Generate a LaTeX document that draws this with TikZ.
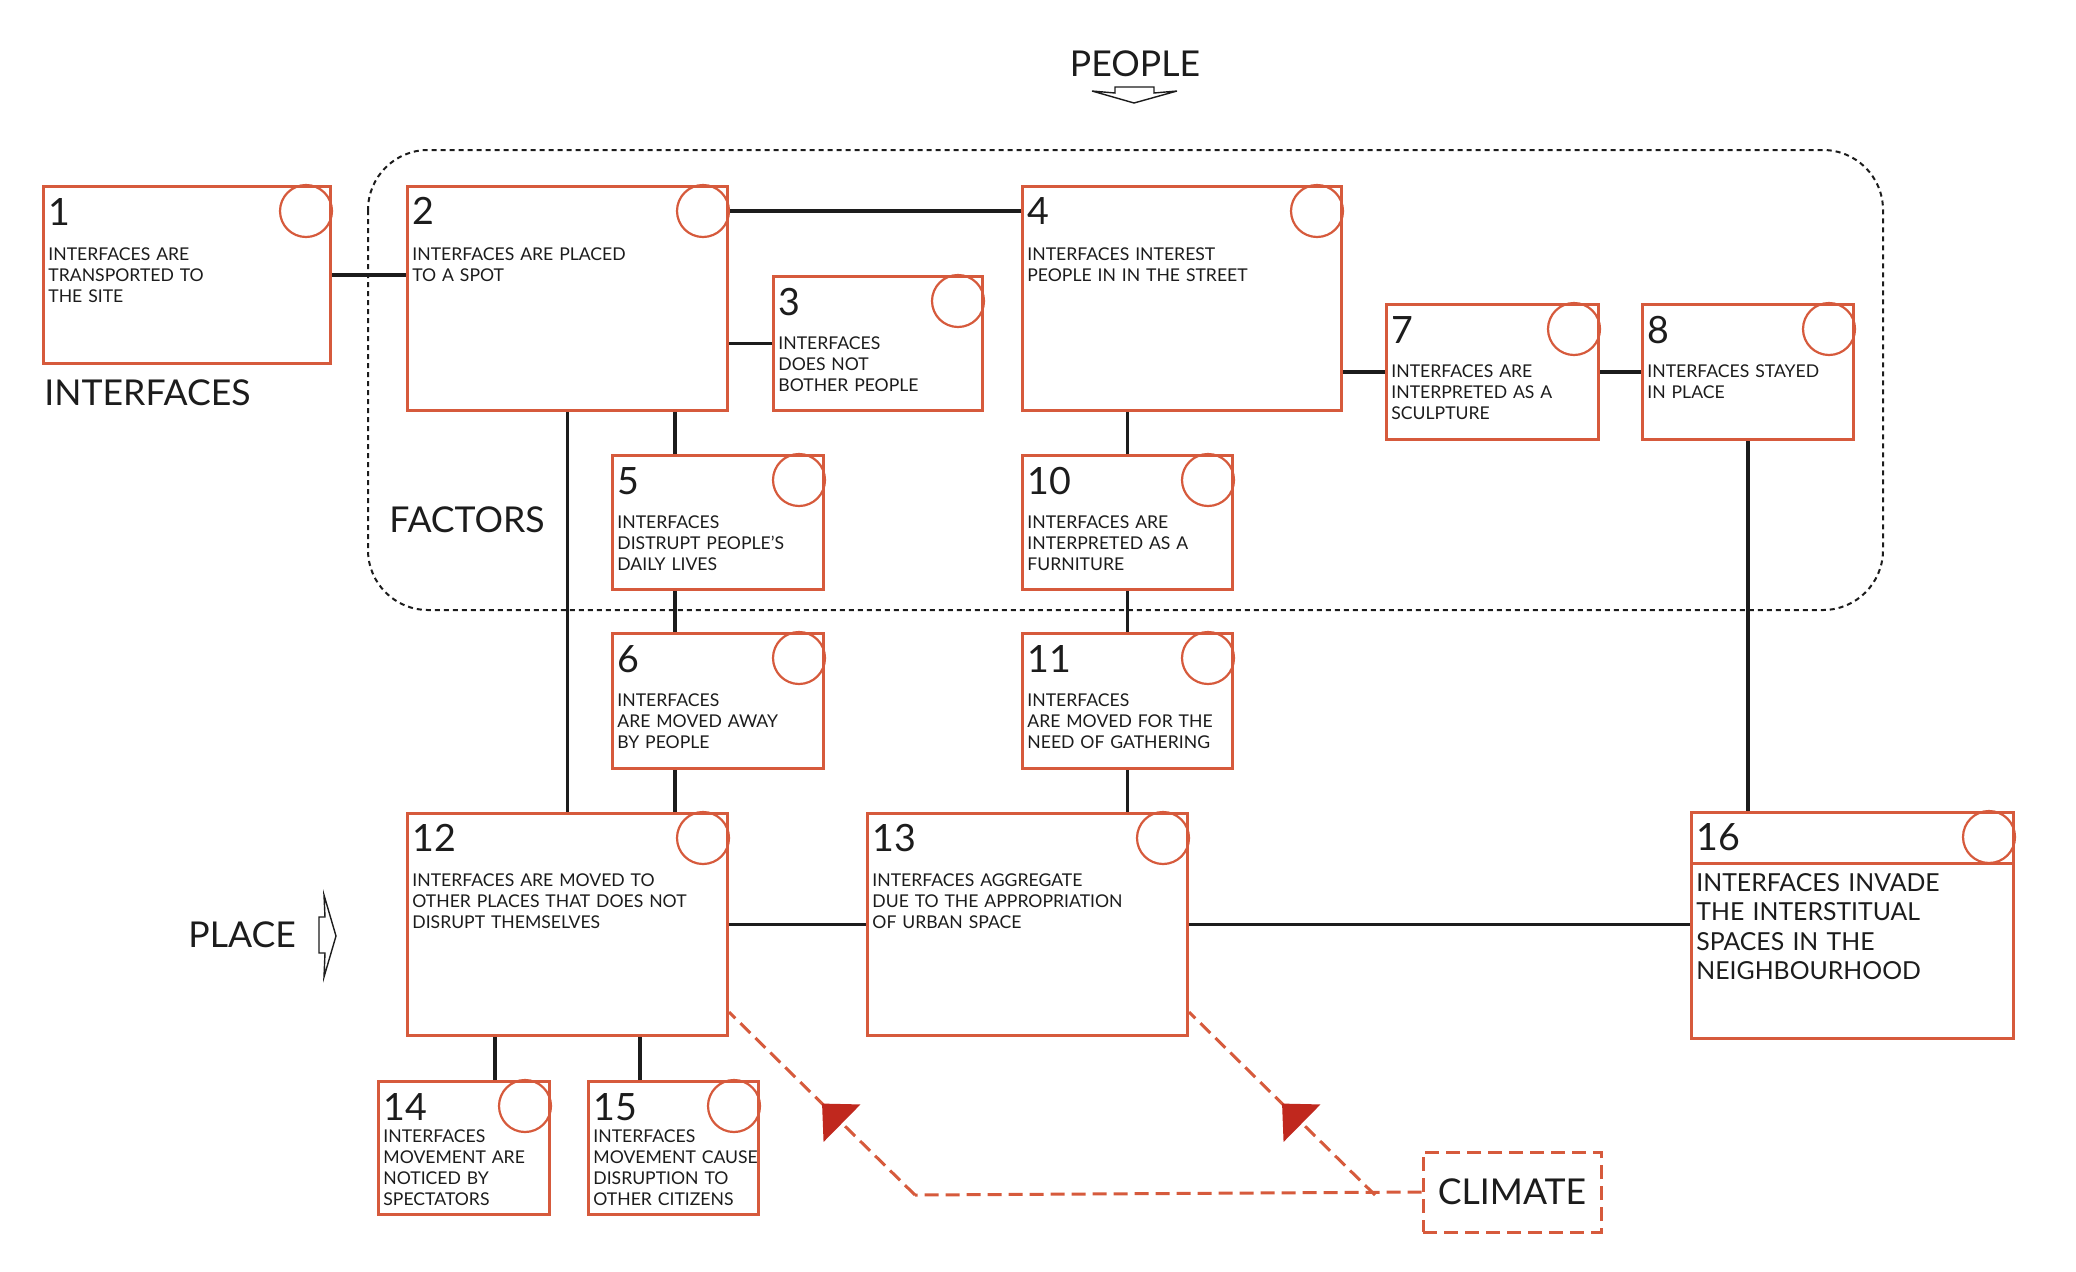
\documentclass[tikz,border=0pt]{standalone}
\usepackage{fontspec}
\setmainfont{Lato}
\usetikzlibrary{arrows.meta,calc,decorations.markings}
\definecolor{boxred}{HTML}{D65A3C}
\definecolor{arrowred}{HTML}{C0281E}
\definecolor{inkdark}{HTML}{1C1C1C}
\tikzset{
  ibox/.style={draw=boxred, fill=white, line width=1.5pt, inner sep=0pt,
    anchor=north west},
  ring/.style={draw=boxred, circle, line width=1.1pt, minimum size=26pt, inner sep=0pt},
  numlabel/.style={font=\fontsize{18.8}{20}\selectfont, text=inkdark,
    inner sep=0pt, anchor=base west},
  desc/.style={font=\fontsize{8.8}{10.5}\selectfont, text=inkdark, inner sep=0pt,
    anchor=base west, text width=170pt, align=left},
  bigdesc/.style={desc, font=\fontsize{12.4}{14.8}\selectfont},
  title/.style={font=\fontsize{17.8}{20}\selectfont, text=inkdark, inner sep=0pt},
  link/.style={line width=1.8pt, color=inkdark},
  % the factors zone
  factorline/.style={draw=inkdark, line width=1pt, dash pattern=on 2.5pt off 2pt,
    rounded corners=30pt},
  % climate influence
  climline/.style={draw=boxred, line width=1.5pt, dash pattern=on 7pt off 3.5pt},
  climbox/.style={climline, minimum width=89pt, minimum height=40pt, inner sep=0pt},
  midarrow/.style={postaction={decorate}, decoration={markings,
    mark=at position 0.5 with {\arrow[arrowred]{Triangle[width=26pt,length=14pt]}}}},
  glyph/.style={draw=inkdark, line width=0.7pt, fill=white, line join=miter},
}

\begin{document}
\begin{tikzpicture}[x=0.5pt,y=-0.5pt]
  \useasboundingbox (0,0) rectangle (2076,1271);
  % factors zone
  \draw[factorline] (368,150) rectangle (1883,610);
  % boxes
  \foreach \n/\x/\y/\w/\h/\nb/\tb/\txt in {
    1/42/185/287/177/40/75/{INTERFACES ARE\\TRANSPORTED TO\\THE SITE},
    2/406/185/320/224/39/75/{INTERFACES ARE PLACED\\TO A SPOT},
    3/772/275/209/134/40/74/{INTERFACES\\DOES NOT\\BOTHER PEOPLE},
    4/1021/185/319/224/39/75/{INTERFACES INTEREST\\PEOPLE IN IN THE STREET},
    5/611/454/211/134/40/74/{INTERFACES\\DISTRUPT PEOPLE’S\\DAILY LIVES},
    6/611/632/211/135/40/74/{INTERFACES\\ARE MOVED AWAY\\BY PEOPLE},
    7/1385/303/212/135/40/74/{INTERFACES ARE\\INTERPRETED AS A\\SCULPTURE},
    8/1641/303/211/135/40/74/{INTERFACES STAYED\\IN PLACE},
    10/1021/454/210/134/40/74/{INTERFACES ARE\\INTERPRETED AS A\\FURNITURE},
    11/1021/632/210/135/40/74/{INTERFACES\\ARE MOVED FOR THE\\NEED OF GATHERING},
    12/406/812/320/222/39/74/{INTERFACES ARE MOVED TO\\OTHER PLACES THAT DOES NOT\\DISRUPT THEMSELVES},
    13/866/812/320/222/39/74/{INTERFACES AGGREGATE\\DUE TO THE APPROPRIATION\\OF URBAN SPACE},
    14/377/1080/171/133/40/62/{INTERFACES\\MOVEMENT ARE\\NOTICED BY\\SPECTATORS},
    15/587/1080/170/133/40/62/{INTERFACES\\MOVEMENT CAUSE\\DISRUPTION TO\\OTHER CITIZENS}} {
    \node[ibox, minimum width=\w*0.5pt, minimum height=\h*0.5pt] (b\n) at (\x,\y) {};
    \node[ring] (c\n) at ([shift={(-26,26)}]b\n.north east) {};
    \node[numlabel] (n\n) at ([shift={(6,\nb)}]b\n.north west) {\n};
    \node[desc] (t\n) at ([shift={(6,\tb)}]b\n.north west) {\txt};
  }
  % box 16 has a head band
  \node[ibox, minimum width=161pt, minimum height=113pt] (b16) at (1690,811) {};
  \node[ring] (c16) at ([shift={(-26,26)}]b16.north east) {};
  \draw[boxred, line width=1.5pt] ([yshift=-26pt]b16.north west) -- ([yshift=-26pt]b16.north east);
  \node[numlabel] (n16) at ([shift={(6,39)}]b16.north west) {16};
  \node[bigdesc] (t16) at ([shift={(6,80)}]b16.north west)
    {INTERFACES INVADE\\THE INTERSTITUAL\\SPACES IN THE\\NEIGHBOURHOOD};
  % links
  \draw[link] (b1.east) -- (b1.east -| b2.west);
  \draw[link] (c2.east) -- (c2.east -| b4.west);
  \draw[link] (b3.west) -- (b3.west -| b2.east);
  \draw[link] ([xshift=32pt]b5.north west) -- ([xshift=32pt]b5.north west |- b2.south);
  \draw[link] (b2.south) -- (b12.north);
  \draw[link] ([xshift=32pt]b5.south west) -- ([xshift=32pt]b6.north west);
  \draw[link] ([xshift=32pt]b6.south west) -- ([xshift=32pt]b6.south west |- b12.north);
  \draw[link] (b10.north) -- (b10.north |- b4.south);
  \draw[link] (b10.south) -- (b11.north);
  \draw[link] (b11.south) -- (b11.south |- b13.north);
  \draw[link] (b7.west) -- (b7.west -| b4.east);
  \draw[link] (b7.east) -- (b8.west);
  \draw[link] (b8.south) -- (b8.south |- b16.north);
  \draw[link] (b12.east) -- (b13.west);
  \draw[link] (b13.east) -- (b13.east -| b16.west);
  \draw[link] ([xshift=59pt]b14.north west) -- ([xshift=59pt]b14.north west |- b12.south);
  \draw[link] ([xshift=26.5pt]b15.north west) -- ([xshift=26.5pt]b15.north west |- b12.south);
  % titles
  \node[title, anchor=base west] (interfaces) at (44,405) {INTERFACES};
  \node[title, anchor=base west] (factors) at (389,532) {FACTORS};
  \node[title, anchor=base] (people) at (1135,76) {PEOPLE};
  \node[title, anchor=base west] (place) at (188,947) {PLACE};
  \draw[glyph] (1115,87) -- (1154,87) -- (1154,93) -- (1177,91) -- (1134,103)
    -- (1092,91) -- (1115,93) -- cycle;
  \draw[glyph] (319,917) -- (325,917) -- (324,895) -- (336,936) -- (324,977)
    -- (325,953) -- (319,953) -- cycle;
  % climate
  \node[climbox, title] (clim) at (1512,1192) {CLIMATE};
  \coordinate (p12) at ([yshift=12.5pt]b12.south east);
  \coordinate (p13) at ([yshift=12.5pt]b13.south east);
  \coordinate (k12) at ($(p12)+(186,183)$);
  \coordinate (k13) at ($(p13)+(186,183)$);
  \draw[climline] (clim.west) -- (k12);
  \draw[climline, midarrow] (k12) -- (p12);
  \draw[climline, midarrow] (k13) -- (p13);
\end{tikzpicture}
\end{document}
